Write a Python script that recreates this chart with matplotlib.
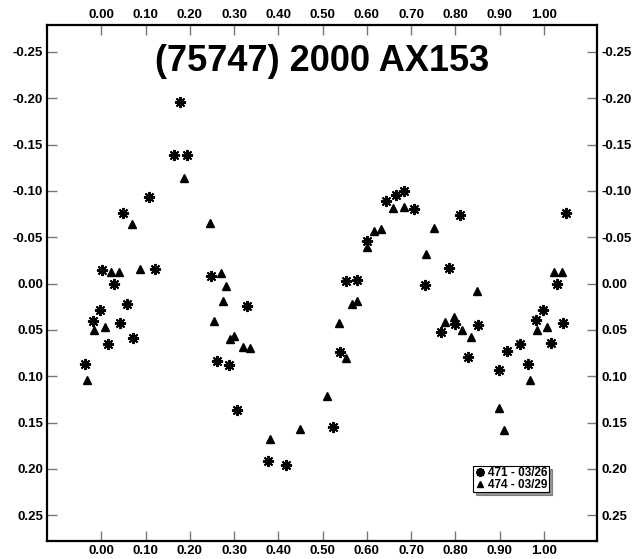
import numpy as np
import matplotlib
matplotlib.use("Agg")
import matplotlib.pyplot as plt
from matplotlib.ticker import FuncFormatter

plt.rcParams['font.family'] = ['Liberation Sans', 'DejaVu Sans']

# session 471 - 03/26 (phase, reduced magnitude)
phase_471 = [-0.037, -0.018, -0.002, 0.001, 0.015, 0.029, 0.042, 0.050, 0.058, 0.072,
             0.108, 0.121, 0.164, 0.178, 0.193, 0.248, 0.262, 0.289, 0.307, 0.330,
             0.376, 0.417, 0.523, 0.540, 0.552, 0.578, 0.600, 0.643, 0.666, 0.684,
             0.707, 0.732, 0.767, 0.785, 0.799, 0.810, 0.828, 0.851, 0.898, 0.917,
             0.946, 0.965, 0.983, 0.998, 1.016, 1.029, 1.043, 1.050]
mag_471 = [0.087, 0.040, 0.028, -0.015, 0.065, 0.000, 0.043, -0.076, 0.022, 0.059,
           -0.093, -0.016, -0.139, -0.196, -0.139, -0.008, 0.083, 0.088, 0.136, 0.024,
           0.191, 0.196, 0.155, 0.074, -0.003, -0.004, -0.046, -0.089, -0.096, -0.100,
           -0.080, 0.001, 0.052, -0.017, 0.044, -0.074, 0.079, 0.045, 0.093, 0.073,
           0.065, 0.087, 0.039, 0.028, 0.064, 0.000, 0.043, -0.076]

# session 474 - 03/29
phase_474 = [-0.032, -0.016, 0.008, 0.021, 0.040, 0.069, 0.087, 0.186, 0.246, 0.254,
             0.271, 0.276, 0.282, 0.291, 0.301, 0.321, 0.335, 0.381, 0.450, 0.510,
             0.537, 0.552, 0.566, 0.577, 0.601, 0.617, 0.633, 0.658, 0.685, 0.733,
             0.752, 0.776, 0.797, 0.816, 0.835, 0.849, 0.899, 0.911, 0.968, 0.984,
             1.008, 1.022, 1.041]
mag_474 = [0.104, 0.050, 0.047, -0.012, -0.012, -0.064, -0.016, -0.114, -0.065, 0.040,
           -0.011, 0.019, 0.003, 0.060, 0.057, 0.068, 0.070, 0.168, 0.157, 0.121,
           0.042, 0.080, 0.022, 0.019, -0.040, -0.057, -0.059, -0.082, -0.083, -0.032,
           -0.060, 0.041, 0.036, 0.050, 0.058, 0.008, 0.134, 0.158, 0.104, 0.050,
           0.047, -0.012, -0.012]

x_ticks = np.round(np.arange(0, 1.01, 0.1), 2)
y_ticks = np.round(np.arange(-0.25, 0.26, 0.05), 2)

fig = plt.figure(figsize=(6.44, 5.59), dpi=100)
ax = fig.add_axes([0.0734, 0.0317, 0.8543, 0.9236])

ax.plot(phase_471, mag_471, linestyle='none', marker=(8, 2, 0), markersize=8,
        markeredgewidth=1.4, color='black', label='471 - 03/26')
ax.plot(phase_474, mag_474, linestyle='none', marker='^', markersize=6,
        color='black', label='474 - 03/29')

ax.set_xlim(-0.122, 1.121)
ax.set_ylim(0.278, -0.279)

fmt = FuncFormatter(lambda v, p: '%.2f' % (round(v, 3) + 0.0))
ax.set_xticks(x_ticks)
ax.set_yticks(y_ticks)
ax.xaxis.set_major_formatter(fmt)
ax.yaxis.set_major_formatter(fmt)

ax.tick_params(direction='in', length=7, width=1, color='#777777',
               top=True, right=True, labeltop=True, labelright=True,
               labelsize=9.5, pad=3)
for t in ax.xaxis.get_major_ticks() + ax.yaxis.get_major_ticks():
    t.label1.set_fontweight('bold')
    t.label2.set_fontweight('bold')
for sp in ax.spines.values():
    sp.set_linewidth(1.6)

ax.text(0.5, 0.93, '(75747) 2000 AX153', transform=ax.transAxes,
        ha='center', va='center', fontsize=26, fontweight='bold')

leg = ax.legend(loc='upper left', bbox_to_anchor=(0.774, 0.146), frameon=True,
                fancybox=False, shadow={'color': '#333333'}, edgecolor='black',
                framealpha=1, prop={'size': 8.5, 'weight': 'bold'}, borderpad=0.1,
                labelspacing=0.0, handletextpad=0.3, handlelength=0.9,
                borderaxespad=0, markerscale=0.8)
leg.get_frame().set_linewidth(0.8)

fig.savefig('out.png', dpi=100)
